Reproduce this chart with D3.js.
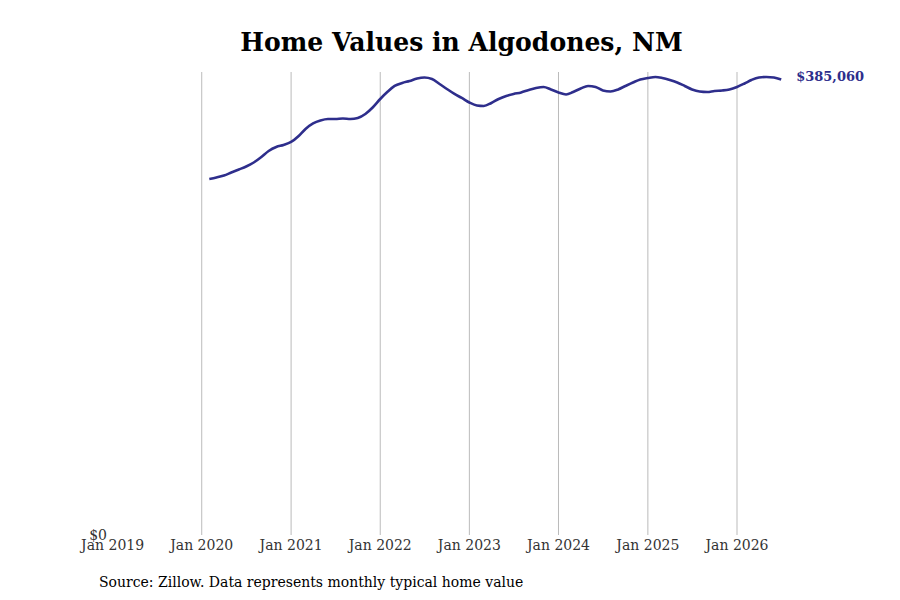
<!DOCTYPE html>
<html><head><meta charset="utf-8">
<script src="https://cdn.jsdelivr.net/npm/d3@7"></script>
<style>body{margin:0;background:#fff;}</style>
</head><body>
<script>
const startMonth = "2020-02";
const values = [301000,302230,303920,306450,309000,311530,314910,319560,324630,328010,329700,
332240,337310,343230,347880,350410,351680,351680,352110,351680,352530,355910,361410,
368590,374930,379580,382120,383810,385920,386770,385500,381280,377050,372820,369440,
365630,363100,362680,365210,368590,371130,372820,374090,376200,377890,378740,376630,
374090,372400,374510,377470,379580,378740,375780,374930,376630,379580,382540,385070,
386340,387190,386340,384650,382540,379580,376630,374930,374510,375360,375780,376630,
378740,381700,384650,386770,387190,386770,385060];
const tickYears = [2019,2020,2021,2022,2023,2024,2025,2026];
const title = "Home Values in Algodones, NM";
const source = "Source: Zillow. Data represents monthly typical home value";
const endLabel = "$385,060";

const W=900,H=600;
const svg=d3.select("body").append("svg").attr("width",W).attr("height",H);
const parse=d3.timeParse("%Y-%m");
const s=parse(startMonth);
const data=values.map((v,i)=>({date:d3.timeMonth.offset(s,i),value:v}));
const x=d3.scaleTime().domain([new Date(2019,0,1),new Date(2026,0,1)]).range([112.6,737]);
const y=d3.scaleLinear().domain([0,391400]).range([535,72]);

// gridlines
svg.append("g").selectAll("line").data(tickYears.filter(t=>t>2019)).join("line")
 .attr("x1",d=>x(new Date(d,0,1))).attr("x2",d=>x(new Date(d,0,1)))
 .attr("y1",72).attr("y2",535).attr("stroke","#bbb").attr("stroke-width",1);

// x labels
svg.append("g").selectAll("text").data(tickYears).join("text")
 .attr("x",d=>x(new Date(d,0,1))).attr("y",550).attr("text-anchor","middle")
 .attr("font-family","DejaVu Serif").attr("font-size",14).attr("fill","#333")
 .text(d=>"Jan "+d);
svg.append("text").attr("x",107).attr("y",540).attr("text-anchor","end")
 .attr("font-family","DejaVu Serif").attr("font-size",14).attr("fill","#333").text("$0");

// line
svg.append("path").datum(data).attr("fill","none").attr("stroke","#2e2e8c").attr("stroke-width",2.6)
 .attr("stroke-linejoin","round")
 .attr("d",d3.line().x(d=>x(d.date)).y(d=>y(d.value)).curve(d3.curveMonotoneX));

const last=data[data.length-1];
svg.append("text").attr("x",x(last.date)+15).attr("y",y(last.value)).attr("dy","0.1em")
 .attr("font-family","DejaVu Serif").attr("font-weight","bold").attr("font-size",13).attr("fill","#2e2e8c")
 .text(endLabel);

svg.append("text").attr("x",461.5).attr("y",51).attr("text-anchor","middle")
 .attr("font-family","DejaVu Serif").attr("font-weight","bold").attr("font-size",25.1).attr("fill","#000").text(title);
svg.append("text").attr("x",99).attr("y",587)
 .attr("font-family","DejaVu Serif").attr("font-size",14).attr("fill","#000").text(source);
</script>
</body></html>
